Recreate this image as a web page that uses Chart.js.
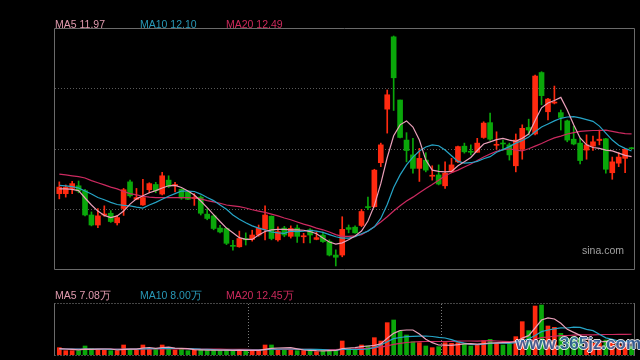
<!DOCTYPE html>
<html>
<head>
<meta charset="utf-8">
<script src="https://cdn.jsdelivr.net/npm/chart.js@4.4.0/dist/chart.umd.min.js"></script>
<style>
  body { margin: 0; background: #000; }
  #wrap { position: relative; width: 640px; height: 360px; background: #000; overflow: hidden; font-family: "Liberation Sans", Arial, sans-serif; }
  canvas { position: absolute; left: 0; }
  .lbl { position: absolute; font-size: 10.5px; line-height: 12px; white-space: nowrap; }
  .ma5 { color: #e09aae; }
  .ma10 { color: #2898b6; }
  .ma20 { color: #cc2a5c; }
  #sina { position: absolute; left: 582px; top: 244px; font-size: 10.5px; line-height: 12px; color: #a0a0a0; }
  #mark { position: absolute; left: 516px; top: 335px; font-size: 17px; font-weight: bold; line-height: 18px; color: #3a68a8; opacity: 0.85;
    text-shadow: 1px 0 #fff, -1px 0 #fff, 0 1px #fff, 0 -1px #fff; }
</style>
</head>
<body>
<div id="wrap">
  <canvas id="kline" width="640" height="275" style="top:0"></canvas>
  <canvas id="vol" width="640" height="80" style="top:280px"></canvas>
  <span class="lbl ma5" style="left:55px;top:18px">MA5 11.97</span>
  <span class="lbl ma10" style="left:140px;top:18px">MA10 12.10</span>
  <span class="lbl ma20" style="left:226px;top:18px">MA20 12.49</span>
  <span class="lbl ma5" style="left:55px;top:289px">MA5 7.08万</span>
  <span class="lbl ma10" style="left:140px;top:289px">MA10 8.00万</span>
  <span class="lbl ma20" style="left:226px;top:289px">MA20 12.45万</span>
  <div id="sina">sina.com</div>
  <div id="mark">www.365jz.com</div>
</div>
<script>
// daily candles
const opens = [11.12, 11.12, 11.24, 11.30, 11.19, 10.63, 10.40, 10.63, 10.67, 10.45,
  10.78, 11.39, 10.99, 10.86, 11.21, 11.33, 11.11, 11.43, 11.30, 11.22,
  11.15, 11.01, 11.04, 10.65, 10.61, 10.33, 10.32, 9.93, 9.90, 10.09,
  10.07, 10.17, 10.30, 10.60, 10.06, 10.33, 10.14, 10.33, 10.13, 10.29,
  10.07, 10.17, 10.02, 9.71, 9.71, 10.34, 10.35, 10.39, 10.82, 10.82,
  11.83, 13.06, 14.72, 13.27, 12.35, 12.01, 11.70, 11.89, 11.52, 11.55,
  11.30, 11.62, 11.85, 12.21, 12.08, 12.07, 12.41, 12.75, 12.23, 12.28,
  12.24, 11.76, 12.14, 12.64, 12.49, 13.90, 13.00, 13.20, 12.98, 12.79,
  12.37, 12.28, 12.12, 12.21, 12.34, 12.38, 11.60, 11.82, 11.93, 12.17];
const closes = [11.27, 11.27, 11.35, 11.18, 10.63, 10.40, 10.61, 10.64, 10.48, 10.57,
  11.21, 11.07, 11.03, 11.03, 11.35, 11.19, 11.53, 11.29, 11.33, 11.02,
  10.99, 11.02, 10.67, 10.55, 10.32, 10.24, 9.98, 9.91, 10.09, 10.06,
  10.17, 10.33, 10.63, 10.09, 10.25, 10.17, 10.32, 10.14, 10.14, 10.17,
  10.11, 10.02, 9.71, 9.66, 10.30, 10.30, 10.22, 10.71, 10.80, 11.66,
  12.24, 13.39, 13.78, 12.41, 12.11, 11.70, 11.93, 11.66, 11.53, 11.34,
  11.59, 11.78, 12.20, 12.08, 12.07, 12.28, 12.74, 12.37, 12.24, 12.26,
  12.01, 12.35, 12.62, 12.58, 13.82, 13.37, 13.29, 13.22, 12.87, 12.35,
  12.26, 11.88, 12.24, 12.31, 12.37, 11.68, 11.85, 11.96, 12.14, 12.15];
const highs = [11.39, 11.32, 11.40, 11.41, 11.22, 10.70, 10.78, 10.84, 10.73, 10.62,
  11.24, 11.43, 11.24, 11.45, 11.37, 11.38, 11.61, 11.53, 11.38, 11.23,
  11.17, 11.12, 11.07, 10.77, 10.63, 10.39, 10.33, 10.05, 10.26, 10.22,
  10.28, 10.40, 10.84, 10.61, 10.36, 10.37, 10.38, 10.40, 10.21, 10.32,
  10.24, 10.24, 10.06, 9.83, 10.59, 10.40, 10.38, 10.76, 11.04, 11.68,
  12.28, 13.50, 14.74, 13.27, 12.52, 12.39, 12.16, 12.06, 11.76, 11.78,
  11.85, 11.93, 12.21, 12.28, 12.24, 12.39, 12.77, 12.97, 12.54, 12.35,
  12.28, 12.49, 12.70, 12.83, 13.84, 13.92, 13.31, 13.59, 13.04, 12.81,
  12.67, 12.39, 12.47, 12.44, 12.58, 12.39, 11.96, 12.06, 12.16, 12.18];
const lows = [11.00, 11.04, 11.12, 11.14, 10.61, 10.38, 10.34, 10.60, 10.46, 10.40,
  10.62, 11.04, 10.98, 10.85, 11.14, 11.14, 11.09, 11.26, 11.16, 10.99,
  10.98, 10.85, 10.63, 10.52, 10.29, 10.22, 9.95, 9.82, 9.89, 9.94,
  10.03, 10.14, 10.06, 10.06, 10.03, 10.13, 10.10, 10.00, 9.99, 9.99,
  10.06, 10.00, 9.69, 9.46, 9.67, 10.22, 10.21, 10.36, 10.75, 10.81,
  11.74, 12.51, 13.03, 12.40, 11.85, 11.59, 11.40, 11.62, 11.43, 11.32,
  11.24, 11.60, 11.83, 12.05, 12.01, 12.07, 12.39, 12.34, 12.14, 12.12,
  11.89, 11.62, 11.91, 12.47, 12.47, 13.16, 12.81, 13.18, 12.58, 12.31,
  12.24, 11.80, 11.91, 12.11, 12.24, 11.59, 11.45, 11.74, 11.60, 12.15];

// moving average lines as drawn
const ma5 = [11.23, 11.23, 11.22, 11.19, 11.02, 10.86, 10.72, 10.62, 10.57, 10.61,
  10.72, 10.88, 11.00, 11.07, 11.14, 11.19, 11.25, 11.30, 11.31, 11.26,
  11.18, 11.09, 10.95, 10.80, 10.64, 10.48, 10.33, 10.22, 10.11, 10.07,
  10.07, 10.17, 10.25, 10.29, 10.30, 10.30, 10.29, 10.29, 10.28, 10.25,
  10.20, 10.10, 10.01, 9.96, 9.99, 10.06, 10.15, 10.26, 10.49, 10.85,
  11.35, 11.95, 12.45, 12.70, 12.79, 12.65, 12.35, 11.89, 11.66, 11.63,
  11.62, 11.63, 11.76, 11.85, 11.95, 12.11, 12.26, 12.31, 12.36, 12.39,
  12.35, 12.32, 12.39, 12.49, 12.80, 13.09, 13.20, 13.26, 13.33, 13.04,
  12.70, 12.40, 12.24, 12.18, 12.16, 12.12, 12.10, 12.05, 12.00, 11.97];
const ma10 = [11.31, 11.30, 11.28, 11.25, 11.18, 11.11, 11.03, 10.98, 10.92, 10.87,
  10.85, 10.84, 10.81, 10.79, 10.86, 10.92, 10.99, 11.06, 11.12, 11.18,
  11.18, 11.17, 11.11, 11.03, 10.96, 10.86, 10.76, 10.63, 10.53, 10.45,
  10.38, 10.33, 10.29, 10.24, 10.22, 10.21, 10.26, 10.25, 10.26, 10.28,
  10.26, 10.23, 10.18, 10.13, 10.10, 10.10, 10.13, 10.20, 10.26, 10.36,
  10.55, 10.87, 11.26, 11.55, 11.78, 11.96, 12.10, 12.19, 12.24, 12.22,
  12.12, 11.99, 11.86, 11.82, 11.83, 11.86, 11.92, 11.97, 12.07, 12.13,
  12.20, 12.28, 12.34, 12.42, 12.54, 12.65, 12.72, 12.79, 12.85, 12.88,
  12.89, 12.86, 12.82, 12.78, 12.67, 12.51, 12.35, 12.23, 12.16, 12.10];
const ma20 = [11.57, 11.55, 11.53, 11.51, 11.48, 11.42, 11.37, 11.32, 11.27, 11.23,
  11.17, 11.12, 11.09, 11.06, 11.04, 11.03, 11.03, 11.03, 11.03, 11.03,
  11.03, 11.02, 11.00, 10.96, 10.93, 10.90, 10.86, 10.84, 10.82, 10.79,
  10.75, 10.72, 10.69, 10.65, 10.61, 10.56, 10.52, 10.47, 10.42, 10.38,
  10.33, 10.29, 10.24, 10.18, 10.14, 10.14, 10.15, 10.18, 10.26, 10.36,
  10.47, 10.59, 10.72, 10.84, 10.95, 11.04, 11.14, 11.24, 11.33, 11.43,
  11.53, 11.60, 11.66, 11.73, 11.80, 11.88, 11.96, 12.03, 12.09, 12.13,
  12.15, 12.12, 12.10, 12.15, 12.21, 12.27, 12.34, 12.40, 12.44, 12.49,
  12.52, 12.55, 12.56, 12.57, 12.57, 12.58, 12.55, 12.52, 12.50, 12.49];

// volume in 万
const volumes = [4.4, 2.6, 2.6, 2.6, 5.4, 4.0, 3.0, 3.0, 2.6, 2.6,
  6.0, 3.4, 3.0, 6.0, 4.0, 3.4, 6.0, 4.0, 3.0, 3.4,
  2.6, 3.0, 3.4, 2.6, 3.0, 2.6, 3.0, 3.0, 3.0, 2.6,
  2.6, 3.0, 6.0, 6.0, 3.4, 3.0, 3.4, 2.6, 2.6, 2.6,
  2.0, 2.6, 3.0, 3.0, 8.4, 4.0, 3.4, 6.0, 5.4, 10.4,
  8.4, 19.4, 21.0, 14.4, 12.0, 8.0, 7.4, 5.4, 4.4, 5.0,
  7.4, 7.0, 7.4, 6.6, 5.4, 6.0, 8.6, 9.4, 7.0, 6.0,
  6.6, 11.0, 20.0, 14.6, 29.4, 30.0, 17.4, 16.6, 13.0, 10.0,
  11.0, 10.0, 8.0, 7.0, 7.0, 9.0, 8.0, 6.0, 7.0, 5.0];
const volMa5 = [3.8, 3.6, 3.4, 3.1, 3.5, 3.4, 3.5, 3.6, 3.6, 3.0,
  3.4, 3.5, 3.5, 4.2, 4.5, 4.0, 4.5, 4.7, 4.1, 4.0,
  3.8, 3.2, 3.1, 2.9, 3.0, 2.9, 2.9, 2.8, 2.9, 2.8,
  2.8, 2.8, 3.4, 4.0, 4.2, 4.3, 4.4, 3.7, 3.0, 2.8,
  2.6, 2.5, 2.6, 2.7, 3.8, 4.2, 4.4, 5.0, 5.4, 5.8,
  6.7, 10.0, 13.0, 14.7, 15.0, 15.0, 12.6, 9.4, 7.4, 6.0,
  5.9, 5.8, 6.2, 6.7, 6.8, 6.5, 6.8, 7.2, 7.3, 7.4,
  7.5, 8.0, 10.1, 11.6, 16.2, 21.0, 22.3, 21.6, 19.0, 15.4,
  13.6, 11.8, 9.5, 8.5, 7.8, 8.2, 7.9, 7.4, 7.3, 7.08];
const volMa10 = [3.6, 3.6, 3.5, 3.5, 3.5, 3.5, 3.5, 3.5, 3.4, 3.4,
  3.4, 3.5, 3.5, 3.7, 3.8, 3.8, 3.9, 4.0, 3.9, 3.9,
  3.8, 3.7, 3.5, 3.4, 3.3, 3.0, 2.9, 2.9, 2.9, 2.9,
  2.9, 2.9, 3.2, 3.5, 3.5, 3.6, 3.6, 3.5, 3.4, 3.4,
  3.4, 3.3, 3.0, 2.8, 3.3, 3.3, 3.3, 3.3, 3.6, 4.4,
  6.0, 8.0, 9.8, 10.5, 11.0, 11.2, 11.3, 11.4, 11.1, 10.6,
  10.2, 9.2, 7.9, 7.1, 6.4, 6.2, 6.5, 6.9, 7.1, 7.1,
  7.0, 7.4, 8.7, 9.6, 11.7, 14.0, 15.0, 15.7, 16.3, 16.2,
  16.7, 16.6, 15.4, 14.6, 12.4, 10.3, 9.4, 8.4, 7.9, 8.0];
const volMa20 = [3.6, 3.6, 3.6, 3.6, 3.6, 3.6, 3.6, 3.6, 3.6, 3.6,
  3.6, 3.6, 3.6, 3.6, 3.6, 3.7, 3.7, 3.7, 3.7, 3.7,
  3.7, 3.7, 3.6, 3.6, 3.5, 3.5, 3.4, 3.4, 3.4, 3.4,
  3.3, 3.3, 3.3, 3.4, 3.4, 3.4, 3.4, 3.4, 3.4, 3.4,
  3.3, 3.3, 3.3, 3.3, 3.5, 3.6, 3.7, 3.9, 4.0, 4.4,
  4.7, 5.5, 6.4, 7.0, 7.5, 7.8, 8.0, 8.1, 8.1, 8.1,
  8.1, 8.2, 8.3, 8.4, 8.4, 8.3, 8.5, 8.6, 8.4, 8.2,
  8.0, 7.8, 8.0, 8.4, 9.5, 10.4, 10.8, 11.3, 11.6, 11.7,
  11.9, 12.1, 12.1, 12.1, 12.2, 12.3, 12.3, 12.4, 12.4, 12.45];

const priceMin = 9.39;
const priceMax = 14.9;
const volMax = 30.6;
const monthSplits = [29.5, 59.5];

const upColor = "#ff2a10";
const downColor = "#0aa70a";
const ma5Color = "#eba0ba";
const ma10Color = "#26a4c6";
const ma20Color = "#cc2a60";

const candleColors = closes.map((c, i) => (c >= opens[i] ? upColor : downColor));
const toPoints = (arr) => arr.map((v, i) => ({ x: i, y: v }));
const maLine = (arr, color) => ({
  type: "line",
  data: toPoints(arr),
  borderColor: color,
  borderWidth: 1.2,
  pointRadius: 0,
  tension: 0,
  order: 0,
});

// x positions: first candle ~59px, step ~6.43px, plot 55..634
const xMin = -0.67;
const xMax = 89.38;

const frame = {
  id: "frame",
  afterDraw(chart, args, opts) {
    const { ctx, chartArea } = chart;
    const l = Math.round(chartArea.left) - 0.5;
    const r = Math.round(chartArea.right) + 0.5;
    const t = Math.round(chartArea.top) - 0.5;
    const b = Math.round(chartArea.bottom) + 0.5;
    ctx.save();
    ctx.lineWidth = 1;
    ctx.strokeStyle = opts.color;
    ctx.beginPath();
    ctx.moveTo(l, t);
    ctx.lineTo(l, b);
    ctx.moveTo(r, t);
    ctx.lineTo(r, b);
    if (!opts.dotted) {
      ctx.moveTo(l, t);
      ctx.lineTo(r, t);
      ctx.moveTo(l, b);
      ctx.lineTo(r, b);
    }
    ctx.stroke();
    if (opts.dotted) {
      ctx.strokeStyle = opts.dotColor;
      ctx.setLineDash([1, 2]);
      ctx.beginPath();
      ctx.moveTo(l, t);
      ctx.lineTo(r, t);
      ctx.moveTo(l, b);
      ctx.lineTo(r, b);
      ctx.stroke();
    }
    ctx.restore();
  },
};

const ctxK = document.getElementById("kline").getContext("2d");
new Chart(ctxK, {
  type: "bar",
  data: {
    datasets: [
      maLine(ma5, ma5Color),
      maLine(ma10, ma10Color),
      maLine(ma20, ma20Color),
      {
        data: opens.map((o, i) => ({ x: i, y: [o, closes[i]] })),
        backgroundColor: candleColors,
        grouped: false,
        categoryPercentage: 1,
        barPercentage: 1,
        maxBarThickness: 5,
        minBarLength: 1,
        order: 2,
      },
      {
        data: lows.map((lo, i) => ({ x: i, y: [lo, highs[i]] })),
        backgroundColor: candleColors,
        grouped: false,
        categoryPercentage: 1,
        barPercentage: 1,
        maxBarThickness: 1,
        order: 3,
      },
    ],
  },
  options: {
    responsive: false,
    animation: false,
    devicePixelRatio: 1,
    layout: { padding: { left: 55, right: 6, top: 29, bottom: 6 } },
    plugins: {
      legend: { display: false },
      tooltip: { enabled: false },
      frame: { color: "#6a6a6a", dotted: false },
    },
    scales: {
      x: { type: "linear", min: xMin, max: xMax, offset: false, display: false },
      y: {
        min: priceMin,
        max: priceMax,
        ticks: { display: false },
        border: { display: false, dash: [1, 2] },
        grid: {
          drawTicks: false,
          color: (c) => (c.index === 0 || c.index === 4 ? "rgba(0,0,0,0)" : "#5a5a5a"),
        },
        afterBuildTicks: (s) => {
          const step = (priceMax - priceMin) / 4;
          s.ticks = [0, 1, 2, 3, 4].map((k) => ({ value: priceMin + k * step }));
        },
        afterFit: (s) => {
          s.width = 0;
        },
      },
    },
  },
  plugins: [frame],
});

const ctxV = document.getElementById("vol").getContext("2d");
new Chart(ctxV, {
  type: "bar",
  data: {
    datasets: [
      maLine(volMa5, ma5Color),
      maLine(volMa10, ma10Color),
      maLine(volMa20, ma20Color),
      {
        data: toPoints(volumes),
        backgroundColor: candleColors,
        grouped: false,
        categoryPercentage: 1,
        barPercentage: 1,
        maxBarThickness: 4,
        order: 2,
      },
    ],
  },
  options: {
    responsive: false,
    animation: false,
    devicePixelRatio: 1,
    layout: { padding: { left: 55, right: 6, top: 24, bottom: 5 } },
    plugins: {
      legend: { display: false },
      tooltip: { enabled: false },
      frame: { color: "#6a6a6a", dotted: true, dotColor: "#8a8a8a" },
    },
    scales: {
      x: {
        type: "linear",
        min: xMin,
        max: xMax,
        offset: false,
        ticks: { display: false },
        border: { display: false, dash: [1, 2] },
        grid: { drawTicks: false, offset: false, color: "#7a7a7a" },
        afterBuildTicks: (s) => {
          s.ticks = monthSplits.map((v) => ({ value: v }));
        },
        afterFit: (s) => {
          s.height = 0;
        },
      },
      y: { min: 0, max: volMax, display: false },
    },
  },
  plugins: [frame],
});
</script>
</body>
</html>
